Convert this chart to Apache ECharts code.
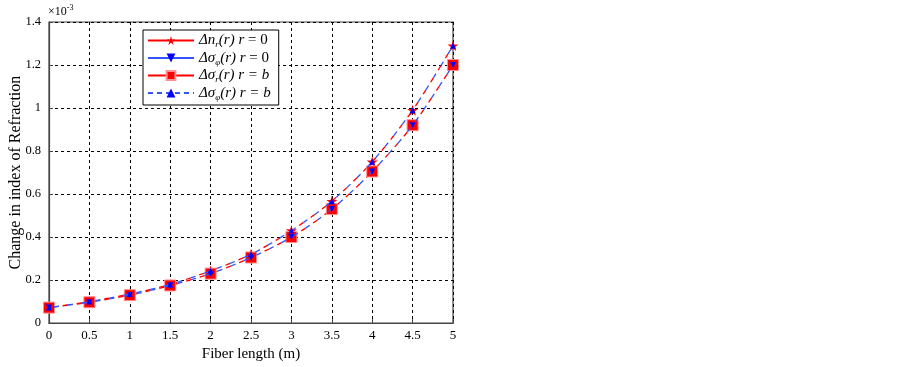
<!DOCTYPE html>
<html>
<head>
<meta charset="utf-8">
<script src="https://cdn.jsdelivr.net/npm/echarts@6/dist/echarts.min.js"></script>
<style>
html, body { margin: 0; padding: 0; background: #fff; }
#box { width: 902px; height: 367px; }
</style>
</head>
<body>
<div id="box"></div>
<script>
// fiber length (m)
const lengths = [0, 0.5, 1, 1.5, 2, 2.5, 3, 3.5, 4, 4.5, 5];
// values in units of 1e-3
const dnR0 = [0.072, 0.10, 0.135, 0.18, 0.243, 0.32, 0.43, 0.567, 0.75, 0.99, 1.29];
const dsPhiR0 = [0.072, 0.097, 0.13, 0.175, 0.23, 0.305, 0.40, 0.53, 0.705, 0.92, 1.20];
const dsRB = [0.072, 0.097, 0.13, 0.175, 0.23, 0.305, 0.40, 0.53, 0.705, 0.92, 1.20];
const dsPhiRB = [0.072, 0.10, 0.135, 0.18, 0.243, 0.32, 0.43, 0.567, 0.75, 0.99, 1.29];
const xTicks = [0, 0.5, 1, 1.5, 2, 2.5, 3, 3.5, 4, 4.5, 5];
const yTicks = [0, 0.2, 0.4, 0.6, 0.8, 1, 1.2, 1.4];

const FONT = '"Liberation Serif", "DejaVu Serif", serif';
const STAR = 'path://M50,0 L61,35 L98,35 L68,57 L79,91 L50,70 L21,91 L32,57 L2,35 L39,35 Z';

function pts(arr) {
  return lengths.map((x, i) => [x, arr[i]]);
}

const legendText = {
  s1: '{i|Δn}{sub|r}{i|(r) r} = 0',
  s2: '{i|Δσ}{sub|φ}{i|(r) r} = 0',
  s3: '{i|Δσ}{sub|r}{i|(r) r = b}',
  s4: '{i|Δσ}{sub|φ}{i|(r) r = b}'
};

const dashLine = (color, offset) => ({
  color: color,
  width: 1.3,
  type: [5, 9],
  dashOffset: offset
});

const chart = echarts.init(document.getElementById('box'));
const option = {
  animation: false,
  backgroundColor: '#fff',
  textStyle: { fontFamily: FONT },
  grid: {
    left: 49, right: 449, top: 22, bottom: 34,
    show: true, borderColor: '#444', borderWidth: 1.2,
    backgroundColor: 'transparent'
  },
  xAxis: {
    type: 'value', min: 0, max: 5, interval: 0.5,
    name: 'Fiber length (m)', nameLocation: 'middle', nameGap: 21,
    nameTextStyle: { fontFamily: FONT, fontSize: 15, color: '#000' },
    axisLine: { onZero: false, lineStyle: { color: '#444', width: 1.2 } },
    axisTick: { inside: true, length: 4, lineStyle: { color: '#444' } },
    axisLabel: {
      fontFamily: FONT, fontSize: 13, color: '#000', margin: 6,
      formatter: v => String(xTicks.find(t => Math.abs(t - v) < 1e-9) ?? v)
    },
    splitLine: { show: true, lineStyle: { color: '#000', type: [3, 3], width: 1 } }
  },
  yAxis: {
    type: 'value', min: 0, max: 1.4, interval: 0.2,
    name: 'Change in index of Refraction', nameLocation: 'middle', nameGap: 25,
    nameMoveOverlap: false,
    nameTextStyle: { fontFamily: FONT, fontSize: 16, color: '#000' },
    axisLine: { lineStyle: { color: '#444', width: 1.2 } },
    axisTick: { inside: true, length: 4, lineStyle: { color: '#444' } },
    axisLabel: {
      fontFamily: FONT, fontSize: 12.5, color: '#000', margin: 8,
      formatter: v => String(yTicks.find(t => Math.abs(t - v) < 1e-9) ?? v)
    },
    splitLine: { show: true, lineStyle: { color: '#000', type: [3, 3], width: 1 } }
  },
  legend: {
    orient: 'vertical', left: 143, top: 30,
    backgroundColor: '#fff', borderColor: '#000', borderWidth: 1, borderRadius: 0,
    padding: [3, 8, 3, 4], itemGap: 1, itemWidth: 46, itemHeight: 11,
    data: [
      { name: 's1', lineStyle: { type: 'solid' } },
      { name: 's2', lineStyle: { type: 'solid' } },
      { name: 's3', lineStyle: { type: 'solid' } },
      { name: 's4', lineStyle: { type: [5, 4] } }
    ],
    formatter: n => legendText[n],
    textStyle: {
      fontFamily: FONT, fontSize: 15, color: '#000',
      rich: {
        i: { fontFamily: FONT, fontStyle: 'italic', fontSize: 15, color: '#000' },
        sub: { fontFamily: FONT, fontStyle: 'italic', fontSize: 9, color: '#000', padding: [9, 0, 0, 0] }
      }
    }
  },
  graphic: [{
    type: 'text', left: 48, top: 4,
    style: {
      text: '×10{sup|-3}',
      fontFamily: FONT, fontSize: 12, fill: '#000',
      rich: { sup: { fontFamily: FONT, fontSize: 8, padding: [0, 0, 8, 0] } }
    }
  }],
  series: [
    {
      name: 's1', type: 'line', data: pts(dnR0), smooth: 0.3, z: 3,
      symbol: STAR, symbolSize: 11,
      itemStyle: { color: '#ff0000' },
      lineStyle: dashLine('#ff0000', 0)
    },
    {
      name: 's2', type: 'line', data: pts(dsPhiR0), smooth: 0.3, z: 5,
      symbol: 'triangle', symbolRotate: 180, symbolSize: 6,
      itemStyle: { color: '#0000ff' },
      lineStyle: dashLine('#3355ff', 9)
    },
    {
      name: 's3', type: 'line', data: pts(dsRB), smooth: 0.3, z: 4,
      symbol: 'rect', symbolSize: 11,
      itemStyle: { color: '#ff0000', borderColor: '#ff9090', borderWidth: 1 },
      lineStyle: dashLine('#ff0000', 0)
    },
    {
      name: 's4', type: 'line', data: pts(dsPhiRB), smooth: 0.3, z: 6,
      symbol: 'triangle', symbolSize: 6,
      itemStyle: { color: '#0000ff' },
      lineStyle: dashLine('#3355ff', 9)
    }
  ]
};
chart.setOption(option);
</script>
</body>
</html>
